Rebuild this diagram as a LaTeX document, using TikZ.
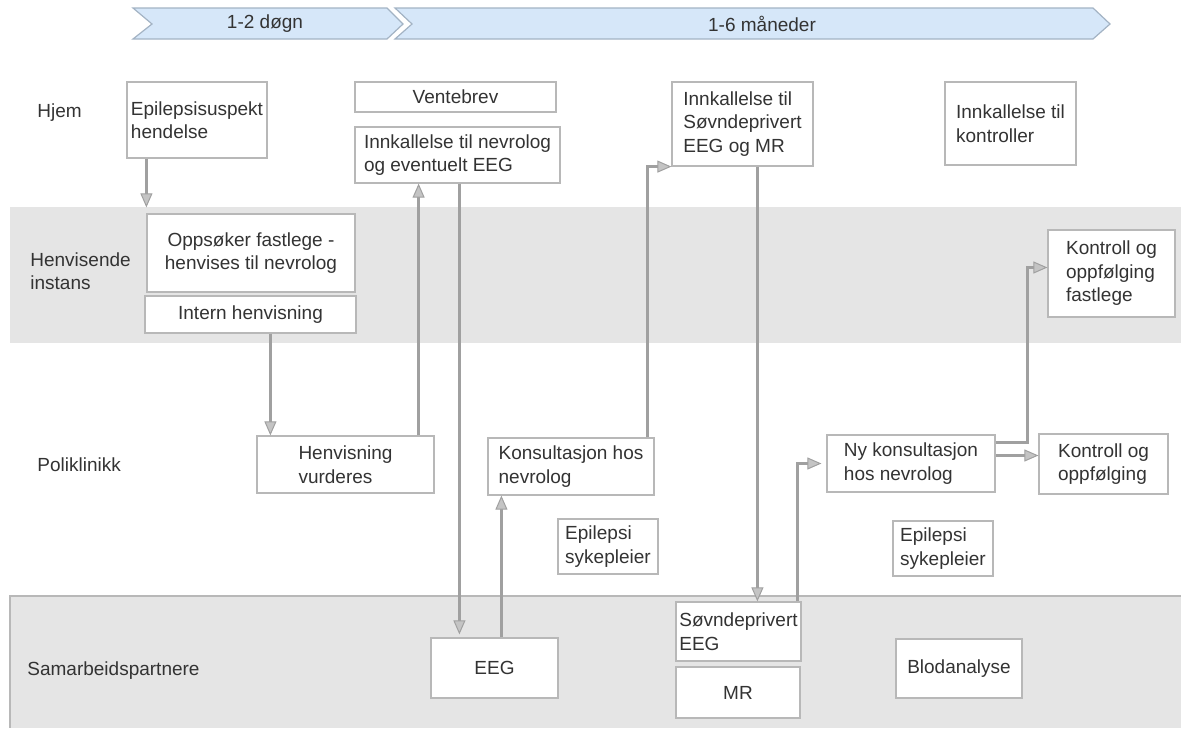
\documentclass[tikz,border=0pt]{standalone}
\usepackage{fontspec}
\setmainfont{Liberation Sans}
\usetikzlibrary{arrows.meta,positioning,calc}

\definecolor{bandgray}{HTML}{E5E5E5}
\definecolor{boxline}{HTML}{B8B8B8}
\definecolor{flowgray}{HTML}{A0A0A0}
\definecolor{tipfill}{HTML}{C4C4C4}
\definecolor{chevfill}{HTML}{D6E7F9}
\definecolor{chevline}{HTML}{A3B3C4}
\definecolor{txt}{HTML}{333333}

\begin{document}
\begin{tikzpicture}[x=0.5pt, y=-0.5pt,
    box/.style={rectangle, draw=boxline, fill=white, line width=0.6pt, inner sep=1pt, align=left, text=txt, font=\fontsize{9.5}{11.75}\selectfont},
    lane/.style={anchor=west, align=left, inner sep=0pt, text=txt, font=\fontsize{9.5}{11.75}\selectfont},
    flow/.style={draw=flowgray, line width=1.25pt, -{Triangle[length=7pt, width=6pt, fill=tipfill, line width=0.5pt]}},
    band/.style={fill=bandgray},
    chev/.style={fill=chevfill, draw=chevline, line width=0.6pt}]

\useasboundingbox (0,0) rectangle (1181,728);

% Swimlane bands
\fill[band] (10,207) rectangle (1181,343);
\fill[band] (10,596) rectangle (1181,728);
\draw[boxline, line width=0.6pt] (1181,596) -- (10,596) -- (10,728);

% Time line at top
\draw[chev] (133,8) -- (387,8) -- (403,24) -- (387,39) -- (133,39) -- (152,24) -- cycle;
\draw[chev] (395,8) -- (1093,8) -- (1110,24) -- (1093,39) -- (395,39) -- (412,24) -- cycle;
\node[lane, anchor=center] (dogn) at (265,24) {1-2 døgn};
\node[lane, anchor=center] (maaned) at (762,24) {1-6 måneder};

% Lane labels
\node[lane] (hjem) at (37,113) {Hjem};
\node[lane] (henvinst) at (30,271) {Henvisende\\instans};
\node[lane] (poli) at (37,465) {Poliklinikk};
\node[lane] (samarb) at (27,671) {Samarbeidspartnere};

% Hjem
\node[box, minimum width=70pt, minimum height=38pt] (eps) at (197,120) {Epilepsisuspekt\\hendelse};
\node[box, minimum width=100.5pt, minimum height=15pt, align=center] (vente) at (455.5,97) {Ventebrev};
\node[box, minimum width=102.5pt, minimum height=28pt] (innk1) at (457.5,155) {Innkallelse til nevrolog\\og eventuelt EEG};
\node[box, minimum width=70.5pt, minimum height=42pt] (innk2) at (742.5,124) {Innkallelse til\\Søvndeprivert\\EEG og MR};
\node[box, minimum width=65.5pt, minimum height=41.5pt] (innk3) at (1010.5,123.5) {Innkallelse til\\kontroller};

% Henvisende instans
\node[box, minimum width=104pt, minimum height=39pt, align=center] (oppsok) at (251,253) {Oppsøker fastlege -\\henvises til nevrolog};
\node[box, minimum width=105.5pt, minimum height=18.5pt, align=center] (intern) at (250.5,314.5) {Intern henvisning};
\node[box, minimum width=63.5pt, minimum height=43.5pt] (kfast) at (1111.5,273.5) {Kontroll og\\oppfølging\\fastlege};

% Poliklinikk
\node[box, minimum width=88.5pt, minimum height=28.5pt] (henvv) at (345.5,464.5) {Henvisning\\vurderes};
\node[box, minimum width=83pt, minimum height=28.5pt] (kons) at (571,466.5) {Konsultasjon hos\\nevrolog};
\node[box, minimum width=50pt, minimum height=27.5pt] (epis1) at (608,546.5) {Epilepsi\\sykepleier};
\node[box, minimum width=84pt, minimum height=28.5pt] (nykons) at (911,463.5) {Ny konsultasjon\\hos nevrolog};
\node[box, minimum width=64.5pt, minimum height=30pt] (kopp) at (1103.5,464) {Kontroll og\\oppfølging};
\node[box, minimum width=50pt, minimum height=27.5pt] (epis2) at (943,548.5) {Epilepsi\\sykepleier};

% Samarbeidspartnere
\node[box, minimum width=63.5pt, minimum height=30pt, align=center] (eeg) at (494.5,668) {EEG};
\node[box, minimum width=62.5pt, minimum height=29.5pt] (sovn) at (738.5,631.5) {Søvndeprivert\\EEG};
\node[box, minimum width=62pt, minimum height=25.5pt, align=center] (mr) at (738,692.5) {MR};
\node[box, minimum width=63pt, minimum height=29.5pt, align=center] (blod) at (959,668.5) {Blodanalyse};

% Flow
\draw[flow, shorten >=3pt] (eps.south -| oppsok.west) -- (oppsok.north west);
\draw[flow] ([xshift=7pt]henvv.north west |- intern.south) -- ([xshift=7pt]henvv.north west);
\draw[flow] ([xshift=-8pt]henvv.north east) -- ([xshift=-8pt]henvv.north east |- innk1.south);
\draw[flow, shorten >=1.5pt] ([xshift=14.5pt]eeg.north west |- innk1.south) -- ([xshift=14.5pt]eeg.north west);
\draw[flow] ([xshift=35.5pt]eeg.north west) -- ([xshift=35.5pt]eeg.north west |- kons.south);
\draw[flow] ([xshift=-3.5pt]kons.north east) |- (innk2.south west);
\draw[flow] ([xshift=43pt]innk2.south west) -- ([xshift=43pt]innk2.south west |- sovn.north);
\draw[flow, shorten >=2.5pt] ([xshift=-2pt]sovn.north east) |- (nykons.west);
\draw[flow] ([yshift=4pt]nykons.east) -- ([yshift=4pt]nykons.east -| kopp.west);
\draw[flow] ([yshift=-4pt]nykons.north east) -| ([xshift=-10pt, yshift=3pt]kfast.west) -- ([yshift=3pt]kfast.west);

\end{tikzpicture}
\end{document}
